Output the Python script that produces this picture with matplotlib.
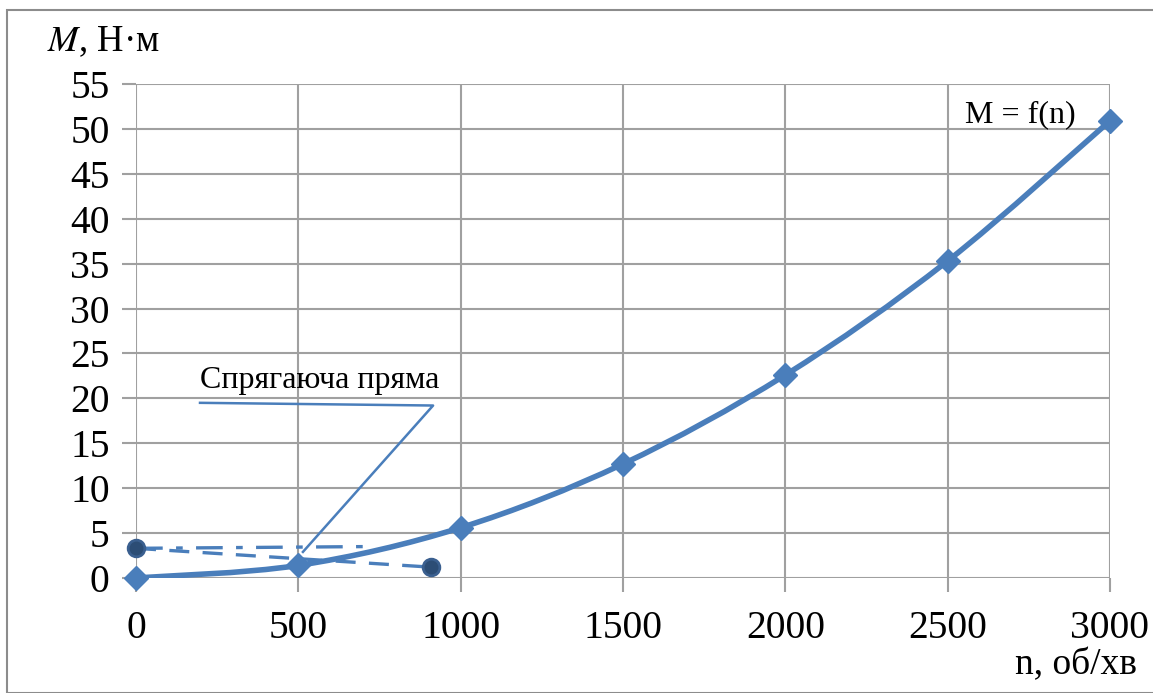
import numpy as np
import matplotlib
matplotlib.use("Agg")
import matplotlib.pyplot as plt
from matplotlib.path import Path
from matplotlib.patches import PathPatch, Rectangle

plt.rcParams['font.family'] = ['Liberation Serif', 'DejaVu Serif']
plt.rcParams['mathtext.fontset'] = 'stix'

# data
n = [0, 500, 1000, 1500, 2000, 2500, 3000]
M = [0, 1.4, 5.6, 12.7, 22.6, 35.3, 50.9]

# tangent construction
tan1_x = [0, 910]
tan1_y = [3.3, 1.2]
tan2_x = [0, 730]
tan2_y = [3.3, 3.5]
circ_x = [0, 910]
circ_y = [3.3, 1.2]

xticks = [0, 500, 1000, 1500, 2000, 2500, 3000]
yticks = list(range(0, 60, 5))

blue = '#4a7ebb'
dark = '#2c4d75'
grid_c = '#a0a0a0'

fig = plt.figure(figsize=(11.53, 6.93), dpi=100)
fig.patches.append(Rectangle((7 / 1153, 0), 1.2, 1 - 10 / 693, transform=fig.transFigure,
                             fill=False, edgecolor='#8c8c8c', linewidth=1.5))
ax = fig.add_axes([0.118, 0.166, 0.8447, 0.7128])

# smooth line (Catmull-Rom bezier through the points, like Excel smoothing)
x = np.array(n, float)
y = np.array(M, float)
verts = [(x[0], y[0])]
codes = [Path.MOVETO]
for i in range(len(x) - 1):
    p0 = np.array([x[max(i - 1, 0)], y[max(i - 1, 0)]])
    p1 = np.array([x[i], y[i]])
    p2 = np.array([x[i + 1], y[i + 1]])
    p3 = np.array([x[min(i + 2, len(x) - 1)], y[min(i + 2, len(x) - 1)]])
    c1 = p1 + (p2 - p0) / 6
    c2 = p2 - (p3 - p1) / 6
    verts += [tuple(c1), tuple(c2), tuple(p2)]
    codes += [Path.CURVE4] * 3
ax.add_patch(PathPatch(Path(verts, codes), fill=False, edgecolor=blue, linewidth=4.0,
                       capstyle='round', zorder=3))
ax.plot(n, M, linestyle='none', marker='D', markersize=12, color=blue, zorder=4,
        clip_on=False)

ax.plot(tan1_x, tan1_y, color=blue, linewidth=2.4, dashes=(6, 4), zorder=3)
ax.plot(tan2_x, tan2_y, color=blue, linewidth=2.4, dashes=(8, 4, 2, 4), zorder=3)
ax.plot(circ_x, circ_y, linestyle='none', marker='o', markersize=12,
        markerfacecolor=dark, markeredgecolor='#3a5f8f', markeredgewidth=2, zorder=5,
        clip_on=False)

# annotation
ax.text(197, 20.4, 'Спрягаюча пряма', fontsize=23, ha='left', va='bottom')
ax.plot([197, 915, 514], [19.5, 19.2, 2.9], color=blue, linewidth=1.8, zorder=3)
ax.text(2725, 51.6, 'M = f(n)', fontsize=23, ha='center', va='center')

ax.set_xlim(0, 3000)
ax.set_ylim(0, 55)
ax.set_xticks(xticks)
ax.set_yticks(yticks)
ax.grid(True, color=grid_c, linewidth=1.5)
ax.set_axisbelow(True)
for s in ax.spines.values():
    s.set_visible(False)
ax.tick_params(axis='both', direction='out', length=10, width=1.5, color=grid_c,
               labelsize=28.5)
ax.tick_params(axis='x', pad=13)
ax.tick_params(axis='y', pad=9)

fig.text(47 / 1153, 1 - 42 / 693, r'$M$, Н·м', fontsize=26.5, ha='left', va='center')
fig.text(1137 / 1153, 1 - 665 / 693, 'n, об/хв', fontsize=27, ha='right', va='center')

fig.savefig('out.png', dpi=100)
